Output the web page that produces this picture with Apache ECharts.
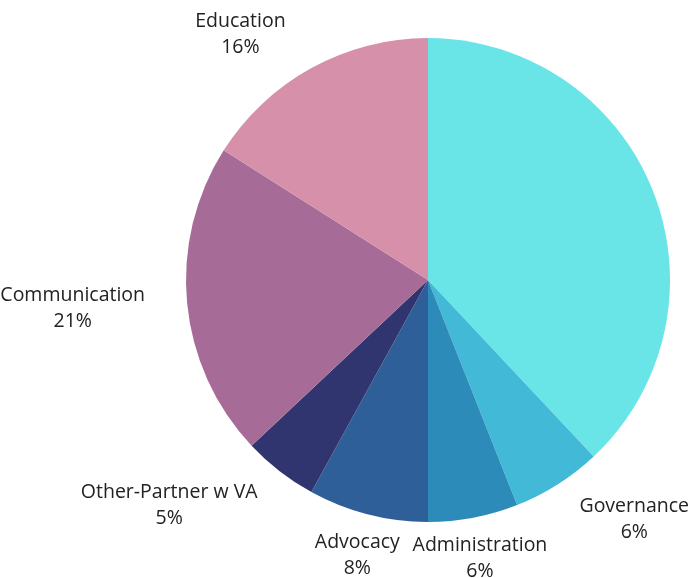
<!DOCTYPE html>
<html><head><meta charset="utf-8">
<script src="https://cdn.jsdelivr.net/npm/echarts@6/dist/echarts.min.js"></script>
<style>html,body{margin:0;padding:0;background:#fff}#c{width:692px;height:578px}</style>
</head><body><div id="c"></div>
<script>
const categories = ['', 'Governance', 'Administration', 'Advocacy', 'Other-Partner w VA', 'Communication', 'Education'];
const values = [38, 6, 6, 8, 5, 21, 16];
const colors = ['#69E5E8', '#42B9D6', '#2D8BBA', '#2E5F98', '#31356F', '#A66C97', '#D690AA'];
const showLabel = [false, true, true, true, true, true, true];

// label nudges (style only)
const nudge = [[0, 0], [-7, 25], [-68, 10], [40, 21], [-5, 25], [-30, 4], [-15, -23]];

const chart = echarts.init(document.getElementById('c'));
chart.setOption({
  animation: false,
  series: [{
    type: 'pie',
    center: ['61.85%', '48.45%'],
    radius: 242,
    startAngle: 90,
    clockwise: true,
    data: categories.map((n, i) => ({
      name: n, value: values[i],
      itemStyle: { color: colors[i] },
      label: { show: showLabel[i] }
    })),
    label: {
      position: 'outside',
      formatter: '{b}\n{c}%',
      fontFamily: 'Open Sans',
      fontSize: 19.5,
      lineHeight: 26,
      color: '#222',
      overflow: 'none'
    },
    labelLine: { show: false, length: 12, length2: 0 },
    labelLayout: function (p) {
      const d = nudge[p.dataIndex];
      return {
        x: p.labelRect.x + p.labelRect.width / 2 + d[0],
        y: p.labelRect.y + p.labelRect.height / 2 + d[1],
        align: 'center', verticalAlign: 'middle'
      };
    }
  }]
});
</script></body></html>
